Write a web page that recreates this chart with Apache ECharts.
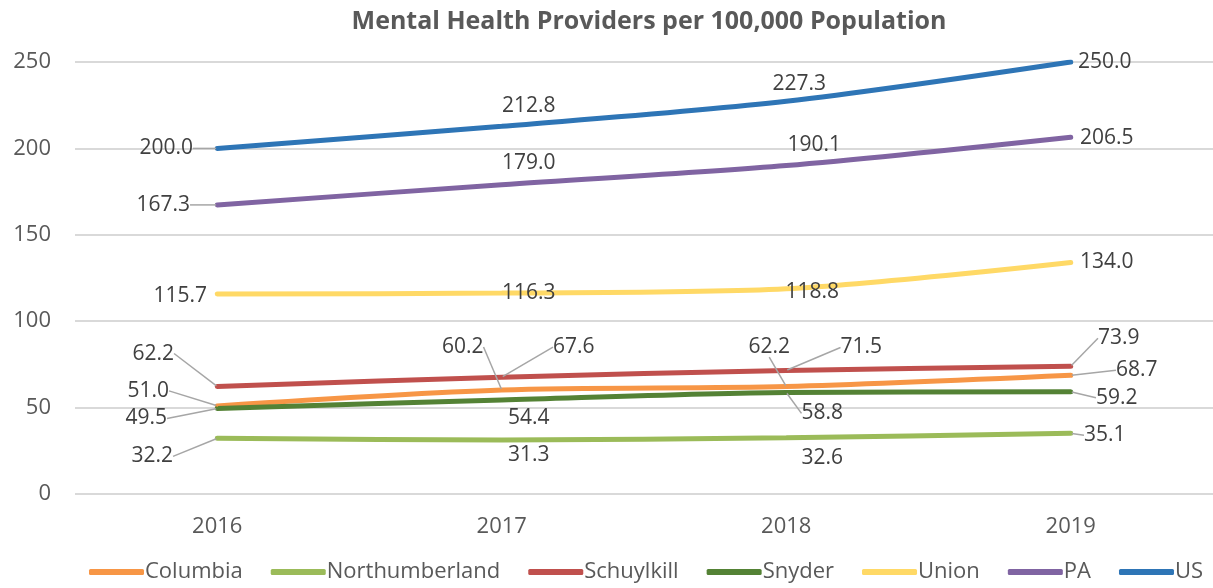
<!DOCTYPE html>
<html lang="en">
<head>
  <meta charset="UTF-8">
  <title>Mental Health Providers</title>
  <script src="https://cdn.jsdelivr.net/npm/echarts@6/dist/echarts.min.js"></script>
  <style>
    html, body { margin: 0; padding: 0; background: #fff; }
    #main { width: 1213px; height: 588px; }
  </style>
</head>
<body>
<div id="main"></div>
<script>
  var years = ['2016', '2017', '2018', '2019'];
  var names = ['Columbia', 'Northumberland', 'Schuylkill', 'Snyder', 'Union', 'PA', 'US'];
  var colors = ['#F79646', '#9BBB59', '#C0504D', '#548235', '#FFD966', '#8064A2', '#2E75B6'];

  var columbia = [51.0, 60.2, 62.2, 68.7];
  var northumberland = [32.2, 31.3, 32.6, 35.1];
  var schuylkill = [62.2, 67.6, 71.5, 73.9];
  var snyder = [49.5, 54.4, 58.8, 59.2];
  var union = [115.7, 116.3, 118.8, 134.0];
  var pa = [167.3, 179.0, 190.1, 206.5];
  var us = [200.0, 212.8, 227.3, 250.0];
  var values = [columbia, northumberland, schuylkill, snyder, union, pa, us];

  // where each value label sits relative to its point (dx, dy)
  var labelShift = [
    [[-69, -15], [-39, -43], [-17, -40], [66, -5]],
    [[-65, 18], [27, 15], [36, 20], [34, 2]],
    [[-64, -33], [72, -30], [75, -23], [48, -28]],
    [[-71, 10], [27, 18], [36, 21], [46, 6]],
    [[-37, 2], [27, 0], [26, 3], [36, 0]],
    [[-54, 0], [27, -22], [28, -20], [36, 1]],
    [[-51, 0], [27, -20], [13, -17], [34, 0]]
  ];
  // which labels get a leader line
  var leader = [
    [1, 1, 1, 1],
    [1, 0, 0, 1],
    [1, 1, 1, 1],
    [1, 0, 1, 1],
    [0, 0, 0, 0],
    [1, 0, 0, 0],
    [1, 0, 0, 0]
  ];

  var series = names.map(function (n, i) {
    return {
      name: n,
      type: 'line',
      smooth: 0.3,
      data: values[i].map(function (v, j) {
        return { value: v, labelLine: { show: !!leader[i][j] } };
      }),
      symbol: 'circle',
      symbolSize: 2,
      lineStyle: { width: 5, color: colors[i], cap: 'round' },
      itemStyle: { color: colors[i] },
      label: {
        show: true,
        position: 'inside',
        formatter: function (p) { return p.value.toFixed(1); },
        color: '#404040',
        fontSize: 21,
        fontFamily: 'Open Sans'
      },
      labelLine: { show: true, lineStyle: { color: '#a6a6a6', width: 1.5 } }
    };
  });

  var chart = echarts.init(document.getElementById('main'));
  chart.setOption({
    animation: false,
    color: colors,
    title: {
      text: 'Mental Health Providers per 100,000 Population',
      left: 644,
      textAlign: 'center',
      top: 4,
      textStyle: { color: '#595959', fontSize: 25, fontWeight: 'bold', fontFamily: 'Open Sans' }
    },
    grid: { left: 75, right: 0, top: 62, bottom: 94 },
    xAxis: {
      type: 'category',
      data: years,
      axisLine: { show: false },
      axisTick: { show: false },
      axisLabel: { color: '#595959', fontSize: 22, margin: 22, fontFamily: 'Open Sans' }
    },
    yAxis: {
      type: 'value',
      min: 0, max: 250, interval: 50,
      axisLabel: { color: '#595959', fontSize: 22, margin: 24, fontFamily: 'Open Sans' },
      splitLine: { lineStyle: { color: '#d9d9d9', width: 2 } }
    },
    legend: {
      bottom: 0,
      left: 84,
      icon: 'roundRect',
      itemWidth: 55,
      itemHeight: 6,
      itemGap: 28,
      textStyle: { color: '#595959', fontSize: 22, fontFamily: 'Open Sans', padding: [0, 0, 0, -4] },
      data: names
    },
    labelLayout: function (p) {
      var s = labelShift[p.seriesIndex][p.dataIndex];
      return { dx: s[0], dy: s[1] };
    },
    series: series
  });
</script>
</body>
</html>
